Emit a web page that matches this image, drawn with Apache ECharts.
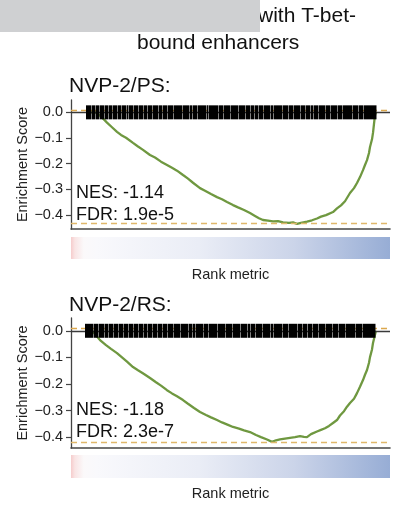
<!DOCTYPE html>
<html>
<head>
<meta charset="utf-8">
<script src="https://cdn.jsdelivr.net/npm/echarts@6.0.0/dist/echarts.min.js"></script>
<style>html,body{margin:0;padding:0;background:#fff}#c{width:398px;height:510px}</style>
</head>
<body>
<div id="c"></div>
<script>
// ---------- data ----------
const titleLine1 = 'with T-bet-';
const titleLine2 = 'bound enhancers';
const panelTitles = ['NVP-2/PS:', 'NVP-2/RS:'];
const nesTexts = ['NES: -1.14', 'NES: -1.18'];
const fdrTexts = ['FDR: 1.9e-5', 'FDR: 2.3e-7'];
const yTicks = [0, -0.1, -0.2, -0.3, -0.4];
const rankMax = 319;

// running enrichment score, panel 1 (NVP-2/PS)
const rank1 = [15, 24, 27, 31, 36, 41, 46, 50, 55, 62, 67, 72, 79, 84, 90, 96, 101, 106, 112, 117, 122, 129, 134, 140, 146, 151, 156, 162, 167, 173, 179, 184, 188, 192, 197, 202, 207, 212, 218, 222, 226, 230, 236, 241, 246, 250, 255, 262, 266, 270, 274, 279, 283, 286, 289, 292, 294, 296, 298, 299, 301, 302, 303, 304, 305];
const es1 = [0, 0, -0.006, -0.020, -0.040, -0.058, -0.076, -0.088, -0.099, -0.119, -0.133, -0.146, -0.166, -0.176, -0.192, -0.205, -0.216, -0.227, -0.244, -0.258, -0.274, -0.295, -0.305, -0.318, -0.330, -0.338, -0.349, -0.361, -0.370, -0.380, -0.392, -0.403, -0.412, -0.419, -0.421, -0.424, -0.423, -0.428, -0.430, -0.428, -0.434, -0.430, -0.425, -0.420, -0.413, -0.406, -0.400, -0.388, -0.374, -0.362, -0.346, -0.314, -0.295, -0.275, -0.252, -0.225, -0.205, -0.186, -0.158, -0.135, -0.105, -0.080, -0.045, -0.010, 0];
const maxES1 = 0.008, minES1 = -0.434;

// running enrichment score, panel 2 (NVP-2/RS)
const rank2 = [14, 21, 24, 29, 35, 40, 46, 51, 56, 62, 67, 73, 79, 85, 90, 96, 101, 106, 112, 117, 123, 129, 135, 140, 146, 151, 157, 162, 168, 173, 179, 185, 190, 196, 201, 205, 209, 214, 219, 224, 229, 233, 236, 240, 246, 250, 254, 258, 262, 266, 269, 273, 276, 279, 283, 286, 289, 292, 294, 296, 298, 299, 301, 302, 304, 305];
const es2 = [0, 0, -0.012, -0.035, -0.054, -0.068, -0.084, -0.100, -0.116, -0.136, -0.148, -0.162, -0.177, -0.193, -0.206, -0.223, -0.235, -0.246, -0.260, -0.274, -0.290, -0.305, -0.316, -0.325, -0.335, -0.344, -0.353, -0.361, -0.367, -0.374, -0.380, -0.391, -0.399, -0.408, -0.417, -0.411, -0.408, -0.405, -0.402, -0.399, -0.395, -0.398, -0.399, -0.388, -0.378, -0.372, -0.366, -0.357, -0.346, -0.335, -0.318, -0.302, -0.285, -0.271, -0.255, -0.234, -0.210, -0.185, -0.165, -0.147, -0.120, -0.099, -0.070, -0.046, -0.015, 0];
const maxES2 = 0.005, minES2 = -0.417;

// barcode (gene-set hit runs along the ranked list)
const hits1 = [[15,20],[21,24],[25,28],[29,33],[34,37],[38,41],[42,46],[47,50],[51,55],[56,57],[58,62],[63,67],[68,72],[73,76],[77,81],[82,87],[88,91],[92,96],[97,102],[103,111],[112,118],[119,121],[122,126],[127,135],[136,137],[138,147],[148,152],[153,159],[160,167],[168,174],[175,179],[180,183],[184,187],[188,192],[193,199],[200,202],[203,211],[212,217],[218,222],[223,229],[230,234],[235,239],[240,242],[243,247],[248,254],[255,259],[260,266],[267,271],[272,281],[282,287],[288,292],[293,305]];
const hits2 = [[14,22],[23,27],[28,33],[34,37],[38,42],[43,47],[48,52],[53,57],[58,62],[63,67],[68,72],[73,76],[77,81],[82,86],[87,91],[92,96],[97,102],[103,109],[110,117],[118,121],[122,124],[125,132],[133,137],[138,146],[147,154],[155,161],[162,169],[170,176],[177,179],[180,184],[185,191],[192,199],[200,202],[203,211],[212,217],[218,226],[227,231],[232,236],[237,241],[242,247],[248,254],[255,261],[262,267],[268,274],[275,284],[285,291],[292,304]];

// rank metric colour ramp
const metricStops = [[0,'#f6cccc'],[0.012,'#f9e4e4'],[0.04,'#fbf9fa'],[0.08,'#f9f9fc'],[0.4,'#eaedf6'],[0.7,'#cbd4e9'],[1,'#97add5']];

// ---------- chart ----------
const FONT = 'Liberation Sans, Arial, sans-serif';
const chart = echarts.init(document.getElementById('c'), null, {renderer: 'canvas'});
const fmt = v => (v === 0 ? '0.0' : '\u2212' + Math.abs(v).toFixed(1));

function esYAxis(gi, min, max) {
  return {
    gridIndex: gi, type: 'value', min: min, max: max,
    name: 'Enrichment Score', nameLocation: 'middle', nameGap: 41, nameMoveOverlap: false,
    nameTextStyle: {fontFamily: FONT, fontSize: 14.5, color: '#222'},
    axisLine: {show: true, lineStyle: {color: '#444', width: 1.3}},
    axisTick: {show: true, length: 5, customValues: yTicks, lineStyle: {color: '#444', width: 1.2}},
    axisLabel: {customValues: yTicks, formatter: fmt, margin: 8, fontFamily: FONT, fontSize: 14.5, color: '#222'},
    splitLine: {show: false}
  };
}
function metricYAxis(gi) {
  return {gridIndex: gi, type: 'value', min: 0, max: 1, show: false};
}
function esXAxis(gi) {
  return {gridIndex: gi, type: 'value', min: 0, max: rankMax,
    axisLine: {show: true, onZero: false, lineStyle: {color: '#444', width: 1.6}},
    axisTick: {show: false}, axisLabel: {show: false}, splitLine: {show: false}};
}
function metricXAxis(gi) {
  return {gridIndex: gi, type: 'value', min: 0, max: rankMax,
    name: 'Rank metric', nameLocation: 'middle', nameGap: 8, nameMoveOverlap: false,
    nameTextStyle: {fontFamily: FONT, fontSize: 14.5, color: '#222', verticalAlign: 'top'},
    axisLine: {show: false}, axisTick: {show: false}, axisLabel: {show: false}, splitLine: {show: false}};
}

function barcodeSeries(gi, hits) {
  return {
    type: 'custom', xAxisIndex: gi, yAxisIndex: gi, z: 5,
    data: hits,
    renderItem: function (params, api) {
      const p0 = api.coord([api.value(0), 0]);
      const p1 = api.coord([api.value(1), 0]);
      return {type: 'rect', shape: {x: p0[0], y: p0[1] - 7, width: p1[0] - p0[0] + 0.5, height: 14},
        style: {fill: '#000'}};
    }
  };
}
function lineSeries(gi, ranks, es, maxES, minES) {
  return {
    type: 'line', xAxisIndex: gi, yAxisIndex: gi, z: 3,
    data: ranks.map((r, i) => [r, es[i]]),
    showSymbol: false, smooth: false,
    lineStyle: {color: '#6f9840', width: 2.3},
    markLine: {
      silent: true, symbol: 'none', label: {show: false},
      data: [
        {yAxis: 0, lineStyle: {type: 'solid', color: '#3a3a3a', width: 1.3}},
        {yAxis: maxES, lineStyle: {type: [6, 4], color: '#dca84e', width: 1.4}},
        {yAxis: minES, lineStyle: {type: [6, 4], color: '#e0b86c', width: 1.4}}
      ]
    }
  };
}
function metricSeries(gi) {
  return {
    type: 'custom', xAxisIndex: gi, yAxisIndex: gi,
    data: [[0, rankMax]],
    renderItem: function (params, api) {
      const a = api.coord([api.value(0), 1]);
      const b = api.coord([api.value(1), 0]);
      return {type: 'rect', shape: {x: a[0], y: a[1], width: b[0] - a[0], height: b[1] - a[1]},
        style: {fill: new echarts.graphic.LinearGradient(0, 0, 1, 0,
          metricStops.map(s => ({offset: s[0], color: s[1]})))}};
    }
  };
}

const tStyle = (size) => ({fontFamily: FONT, fontSize: size, fontWeight: 'normal', color: '#111'});

chart.setOption({
  animation: false,
  backgroundColor: '#fff',
  title: [
    {text: titleLine1, left: 258, top: 6, padding: 0, textStyle: tStyle(21)},
    {text: titleLine2, left: 137, top: 33, padding: 0, textStyle: tStyle(21)},
    {text: panelTitles[0], left: 69, top: 76, padding: 0, textStyle: tStyle(21)},
    {text: panelTitles[1], left: 69, top: 295, padding: 0, textStyle: tStyle(21)},
    {text: nesTexts[0], left: 76, top: 184, padding: 0, textStyle: tStyle(18)},
    {text: fdrTexts[0], left: 76, top: 206, padding: 0, textStyle: tStyle(18)},
    {text: nesTexts[1], left: 76, top: 401, padding: 0, textStyle: tStyle(18)},
    {text: fdrTexts[1], left: 76, top: 423, padding: 0, textStyle: tStyle(18)}
  ],
  graphic: [
    {type: 'rect', left: 0, top: 0, z: 100, shape: {width: 260, height: 32}, style: {fill: '#cfd0d2'}}
  ],
  grid: [
    {left: 71, top: 100, width: 319, height: 129},
    {left: 71, top: 237, width: 319, height: 22},
    {left: 71, top: 318, width: 319, height: 130},
    {left: 71, top: 455, width: 319, height: 23}
  ],
  xAxis: [esXAxis(0), metricXAxis(1), esXAxis(2), metricXAxis(3)],
  yAxis: [esYAxis(0, -0.454, 0.048), metricYAxis(1), esYAxis(2, -0.44, 0.048), metricYAxis(3)],
  series: [
    lineSeries(0, rank1, es1, maxES1, minES1),
    barcodeSeries(0, hits1),
    metricSeries(1),
    lineSeries(2, rank2, es2, maxES2, minES2),
    barcodeSeries(2, hits2),
    metricSeries(3)
  ]
});
</script>
</body>
</html>
